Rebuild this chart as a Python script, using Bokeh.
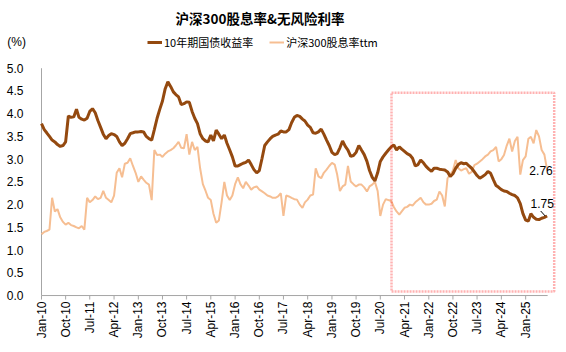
import math
import pandas as pd
from bokeh.plotting import figure
from bokeh.models import (ColumnDataSource, FixedTicker, DatetimeTickFormatter, Range1d,
                          Legend, LegendItem, Label, BoxAnnotation)
from bokeh.core.properties import value
from bokeh.embed import file_html
from bokeh.resources import INLINE

# ---------------- data (monthly, Jan-2010 .. Sep-2025) ----------------
start_month = "2010-01-01"

cgb10y = [
    3.78, 3.65, 3.58, 3.50, 3.42, 3.38, 3.32, 3.28, 3.30, 3.38, 3.95, 3.92,
    3.93, 4.10, 3.92, 3.88, 3.86, 3.90, 4.05, 4.11, 4.02, 3.85, 3.70, 3.55,
    3.45, 3.52, 3.56, 3.54, 3.50, 3.38, 3.30, 3.35, 3.45, 3.56, 3.58, 3.60,
    3.60, 3.61, 3.60, 3.50, 3.45, 3.42, 3.65, 3.90, 4.10, 4.28, 4.55, 4.70,
    4.60, 4.48, 4.42, 4.37, 4.20, 4.22, 4.26, 4.25, 4.05, 3.90, 3.78, 3.56,
    3.45, 3.40, 3.38, 3.53, 3.40, 3.64, 3.55, 3.45, 3.53, 3.35, 3.20, 3.05,
    2.85, 2.85, 2.88, 2.91, 2.93, 2.98, 2.88, 2.77, 2.70, 2.75, 3.02, 3.30,
    3.38, 3.45, 3.50, 3.53, 3.55, 3.62, 3.60, 3.60, 3.65, 3.80, 3.92, 3.96,
    3.94, 3.88, 3.84, 3.75, 3.70, 3.58, 3.57, 3.60, 3.66, 3.55, 3.42, 3.30,
    3.15, 3.10, 3.12, 3.25, 3.40, 3.28, 3.20, 3.06, 3.08, 3.15, 3.30, 3.20,
    3.10, 2.95, 2.75, 2.60, 2.52, 2.70, 2.95, 3.05, 3.13, 3.20, 3.27, 3.31,
    3.20, 3.27, 3.22, 3.17, 3.12, 3.09, 3.02, 2.85, 2.88, 2.98, 2.92, 2.84,
    2.78, 2.73, 2.80, 2.80, 2.78, 2.77, 2.76, 2.72, 2.62, 2.68, 2.80, 2.88,
    2.92, 2.90, 2.91, 2.85, 2.80, 2.72, 2.64, 2.58, 2.62, 2.66, 2.73, 2.69,
    2.55, 2.42, 2.38, 2.33, 2.30, 2.29, 2.25, 2.22, 2.20, 2.15, 2.02, 1.80,
    1.66, 1.64, 1.80, 1.72, 1.68, 1.67, 1.70, 1.72, 1.75,
]

csi300_dy = [
    1.35, 1.40, 1.42, 1.45, 2.15, 1.85, 1.90, 1.72, 1.62, 1.56, 1.60, 1.55,
    1.53, 1.50, 1.48, 1.53, 1.45, 2.15, 2.05, 2.10, 2.18, 2.12, 2.15, 2.30,
    2.15, 2.10, 2.05, 2.20, 2.70, 2.80, 2.60, 2.90, 2.92, 3.02, 2.85, 2.70,
    2.50, 2.62, 2.55, 2.48, 2.44, 2.10, 3.20, 3.09, 3.10, 3.05, 3.12, 3.17,
    3.20, 3.24, 3.30, 3.38, 3.25, 3.24, 3.55, 3.10, 3.38, 3.20, 3.27, 2.80,
    2.45, 2.30, 2.15, 2.10, 1.80, 1.60, 1.65, 2.05, 2.50, 2.20, 2.10, 2.20,
    2.45, 2.60, 2.45, 2.36, 2.50, 2.42, 2.33, 2.38, 2.40, 2.33, 2.29, 2.25,
    2.20, 2.18, 2.15, 2.15, 2.18, 2.25, 1.75, 2.20, 2.18, 2.15, 2.12, 2.11,
    2.00, 1.93, 2.05, 2.11, 2.20, 2.22, 2.80, 2.62, 2.58, 2.70, 2.77, 2.85,
    2.92, 2.88, 2.66, 2.30, 2.40, 2.44, 2.85, 2.51, 2.45, 2.40, 2.44, 2.44,
    2.38, 2.29, 2.40, 2.44, 2.50, 2.30, 1.75, 2.00, 2.12, 2.10, 2.08, 1.95,
    1.85, 1.78, 1.85, 1.93, 1.95, 2.00, 1.98, 2.05, 2.10, 2.15, 2.05, 2.00,
    2.00, 2.02, 2.08, 2.11, 2.29, 2.20, 1.96, 2.58, 2.66, 2.75, 2.98, 2.80,
    2.75, 2.78, 2.80, 2.68, 2.72, 2.87, 2.90, 2.95, 3.00, 3.06, 3.10, 3.17,
    3.20, 3.27, 2.95, 3.00, 3.09, 3.30, 3.45, 3.17, 3.40, 3.49, 2.66, 2.98,
    3.06, 3.45, 3.49, 3.35, 3.64, 3.50, 3.20, 3.10, 2.76,
]

tick_labels = ["Jan-10", "Oct-10", "Jul-11", "Apr-12", "Jan-13", "Oct-13", "Jul-14",
               "Apr-15", "Jan-16", "Oct-16", "Jul-17", "Apr-18", "Jan-19", "Oct-19",
               "Jul-20", "Apr-21", "Jan-22", "Oct-22", "Jul-23", "Apr-24", "Jan-25"]
y_ticks = [0.0, 0.5, 1.0, 1.5, 2.0, 2.5, 3.0, 3.5, 4.0, 4.5, 5.0]
y_tick_labels = ["0.0", "0.5", "1.0", "1.5", "2.0", "2.5", "3.0", "3.5", "4.0", "4.5", "5.0"]

series_names = ["10年期国债收益率", "沪深300股息率ttm"]
title_text = "沪深300股息率&无风险利率"
unit_text = "(%)"

# ---------------- build ----------------
dates = pd.date_range(start_month, periods=len(cgb10y), freq="MS")
src = ColumnDataSource(dict(date=dates, cgb=cgb10y, dy=csi300_dy))

def ms(ts):
    return pd.Timestamp(ts).timestamp() * 1000.0

tick_ms = [ms(pd.to_datetime(t, format="%b-%y")) for t in tick_labels]

FONT = "Liberation Sans"
CJK = "Noto Sans CJK SC"

Y_BOTTOM = -0.109       # a little room under 0 so the "0.0" label is not clipped
Y_TOP = 5.786           # headroom inside the frame for legend / unit text
X_START = "2008-09-24"  # frame begins at the canvas' left edge; Jan-10 sits 41px in
X_END = "2025-12-16"
X_AXIS_END = "2025-09-07"
AXIS_X = pd.Timestamp(start_month)

p = figure(width=566, height=352, output_backend="svg", toolbar_location=None,
           x_axis_type="datetime", y_axis_location=None,
           x_range=Range1d(ms(X_START), ms(X_END)),
           y_range=Range1d(Y_BOTTOM, Y_TOP),
           min_border_left=0, min_border_right=10, min_border_bottom=52,
           min_border_top=30)
p.outline_line_color = None
p.xgrid.visible = False
p.ygrid.visible = False
p.background_fill_color = "white"
p.border_fill_color = "white"

p.title.text = title_text
p.title.align = "left"
p.title.offset = 175
p.title.text_font = CJK
p.title.text_font_size = "13.5px"
p.title.text_font_style = "bold"
p.title.text_color = "#000000"

c_brown = "#94490F"
c_light = "#F6BE92"
c_axis = "#A6A6A6"

# y axis (drawn at Jan-10)
p.segment(x0=[AXIS_X], y0=[y_ticks[0]], x1=[AXIS_X], y1=[y_ticks[-1]],
          line_color=c_axis, line_width=1)
p.text(x=[pd.Timestamp("2009-06-10")] * len(y_ticks), y=y_ticks, text=y_tick_labels,
       text_align="right", text_baseline="middle", text_font=value(FONT),
       text_font_size="12px", text_color="#000000")

# x axis line and tick marks at y = 0
p.segment(x0=[AXIS_X], y0=[0], x1=[pd.Timestamp(X_AXIS_END)], y1=[0],
          line_color=c_axis, line_width=1)
p.segment(x0=tick_ms, y0=[0] * len(tick_ms), x1=tick_ms, y1=[-0.088] * len(tick_ms),
          line_color=c_axis, line_width=1)

r_dy = p.line("date", "dy", source=src, line_color=c_light, line_width=2)
r_cgb = p.line("date", "cgb", source=src, line_color=c_brown, line_width=3)

# x axis labels (line / ticks drawn above)
xa = p.xaxis[0]
xa.ticker = FixedTicker(ticks=tick_ms)
xa.formatter = DatetimeTickFormatter(years="%b-%y", months="%b-%y", days="%b-%y",
                                     hours="%b-%y", minutes="%b-%y")
xa.major_label_orientation = math.pi / 2
xa.major_label_text_font = FONT
xa.major_label_text_font_size = "12px"
xa.major_label_text_color = "#000000"
xa.axis_line_color = None
xa.major_tick_line_color = None
xa.major_tick_out = 0
xa.major_tick_in = 0
xa.major_label_standoff = 1
xa.minor_tick_line_color = None

# highlight box
box = BoxAnnotation(left=ms("2020-11-05"), right=ms("2025-11-20"), bottom=0.09, top=4.46,
                    fill_alpha=0, line_color="#FF0000", line_width=2.5, line_dash="2 1")
p.add_layout(box)

# end labels
p.add_layout(Label(x=ms("2025-02-12"), y=csi300_dy[-1], text=f"{csi300_dy[-1]:.2f}",
                   text_font=FONT, text_font_size="12px", text_baseline="middle",
                   text_color="#000000"))
p.add_layout(Label(x=ms("2025-02-25"), y=2.03, text=f"{cgb10y[-1]:.2f}",
                   text_font=FONT, text_font_size="12px", text_baseline="middle",
                   text_color="#000000"))
p.segment(x0=[ms("2025-06-20")], y0=[1.86], x1=[ms("2025-08-10")], y1=[1.75],
          line_color="#000000", line_width=1)

# legend (inside the frame headroom)
legend = Legend(items=[LegendItem(label=series_names[0], renderers=[r_cgb]),
                       LegendItem(label=series_names[1], renderers=[r_dy])],
                orientation="horizontal", location=(147, 250),
                label_text_font=CJK, label_text_font_size="11px",
                label_text_color="#000000",
                glyph_width=15, glyph_height=10, spacing=16, padding=0, margin=0,
                label_standoff=2,
                border_line_alpha=0, background_fill_alpha=0)
p.add_layout(legend)

# unit label
p.add_layout(Label(x=ms("2008-12-10"), y=5.57, text=unit_text, text_baseline="middle",
                   text_font=FONT, text_font_size="12px", text_color="#000000"))

open("out.html", "w").write(file_html(p, INLINE))
